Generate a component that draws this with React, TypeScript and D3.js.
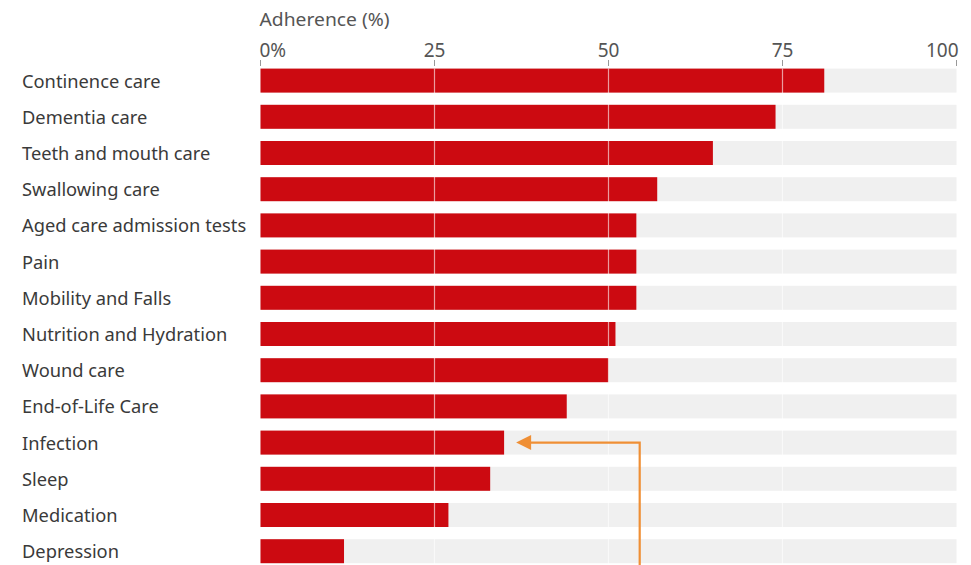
import React from "react";
import * as d3 from "d3";

const categories = [
  "Continence care",
  "Dementia care",
  "Teeth and mouth care",
  "Swallowing care",
  "Aged care admission tests",
  "Pain",
  "Mobility and Falls",
  "Nutrition and Hydration",
  "Wound care",
  "End-of-Life Care",
  "Infection",
  "Sleep",
  "Medication",
  "Depression",
];
const adherence = [81, 74, 65, 57, 54, 54, 54, 51, 50, 44, 35, 33, 27, 12];
const tickValues = [0, 25, 50, 75, 100];
const tickLabels = ["0%", "25", "50", "75", "100"];
const highlighted = "Infection";

const W = 971;
const H = 565;
const FONT = "'Noto Sans', 'Open Sans', sans-serif";

export default function App() {
  const x = d3.scaleLinear().domain([0, 100]).range([260.5, 956.5]);
  const y = d3
    .scaleBand<string>()
    .domain(categories)
    .range([62.5, 569.3])
    .paddingInner(0.337)
    .paddingOuter(0.1685);
  const bh = y.bandwidth();
  const hy = (y(highlighted) ?? 0) + bh / 2;
  const hv = adherence[categories.indexOf(highlighted)];
  const tipX = x(hv) + 12;
  const cornerX = 639.7;

  return (
    <svg
      width={W}
      height={H}
      style={{ position: "absolute", left: 0, top: 0, background: "#fff" }}
      fontFamily={FONT}
    >
      <text x={x(0) - 1} y={26} fontSize={18.5} fill="#555" textLength={130} lengthAdjust="spacingAndGlyphs">
        Adherence (%)
      </text>
      {tickValues.map((t, i) => (
        <g key={t}>
          <text
            x={x(t)}
            y={57}
            fontSize={19}
            fill="#555"
            textAnchor={i === 0 ? "start" : i === tickValues.length - 1 ? "end" : "middle"}
            dx={i === 0 ? -1 : i === tickValues.length - 1 ? 2 : 0}
          >
            {tickLabels[i]}
          </text>
          <line x1={x(t)} x2={x(t)} y1={60} y2={66} stroke="#999" strokeWidth={1} />
        </g>
      ))}
      {categories.map((c, i) => {
        const yy = y(c) ?? 0;
        return (
          <g key={c}>
            <rect x={x(0)} y={yy} width={x(100) - x(0)} height={bh} fill="#f0f0f0" />
            <rect x={x(0)} y={yy} width={x(adherence[i]) - x(0)} height={bh} fill="#cc0a11" />
            <text
              x={22}
              y={yy + bh / 2 + 7}
              fontSize={18.3}
              fill="#3a3a3a"
            >
              {c}
            </text>
          </g>
        );
      })}
      {[25, 50, 75].map((t) => (
        <line
          key={t}
          x1={x(t)}
          x2={x(t)}
          y1={(y(categories[0]) ?? 0)}
          y2={H}
          stroke="#fff"
          strokeOpacity={0.6}
          strokeWidth={1.2}
        />
      ))}
      <path
        d={`M${tipX + 14},${hy} H${cornerX} V${H}`}
        fill="none"
        stroke="#ef8f35"
        strokeWidth={2.2}
      />
      <path
        d={`M${tipX},${hy} L${tipX + 15},${hy - 7.5} L${tipX + 15},${hy + 7.5} Z`}
        fill="#ef8f35"
      />
    </svg>
  );
}
